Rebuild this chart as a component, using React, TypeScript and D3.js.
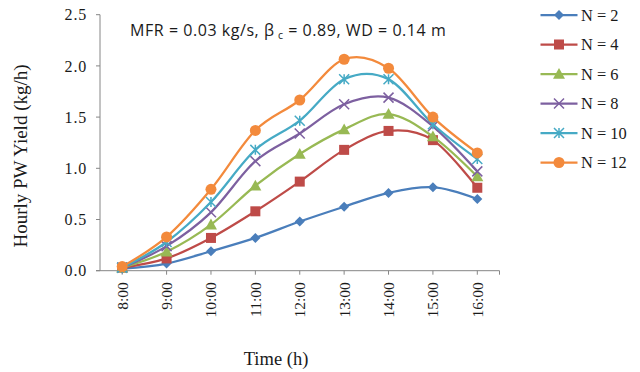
import React from "react";
import * as d3 from "d3";

const categories = ["8:00", "9:00", "10:00", "11:00", "12:00", "13:00", "14:00", "15:00", "16:00"];
const seriesNames = ["N = 2", "N = 4", "N = 6", "N = 8", "N = 10", "N = 12"];
const n2 = [0.02, 0.07, 0.19, 0.32, 0.48, 0.625, 0.76, 0.815, 0.70];
const n4 = [0.03, 0.12, 0.32, 0.58, 0.87, 1.18, 1.365, 1.275, 0.81];
const n6 = [0.03, 0.185, 0.45, 0.83, 1.14, 1.38, 1.53, 1.31, 0.92];
const n8 = [0.03, 0.24, 0.57, 1.07, 1.34, 1.625, 1.69, 1.41, 0.97];
const n10 = [0.03, 0.28, 0.67, 1.18, 1.465, 1.87, 1.87, 1.43, 1.09];
const n12 = [0.04, 0.33, 0.795, 1.37, 1.667, 2.065, 1.977, 1.50, 1.15];
const seriesValues = [n2, n4, n6, n8, n10, n12];
const yTicks = [0, 0.5, 1.0, 1.5, 2.0, 2.5];
const colors = ["#4A7EBB", "#BE4B48", "#98B954", "#7D60A0", "#46AAC5", "#F38A3C"];
const markers = ["diamond", "square", "triangle", "x", "star", "circle"];

function Marker({ type, x, y, color }: { type: string; x: number; y: number; color: string }) {
  if (type === "diamond") {
    const s = 5;
    return <path d={`M${x},${y - s}L${x + s},${y}L${x},${y + s}L${x - s},${y}Z`} fill={color} />;
  }
  if (type === "square") {
    const s = 5;
    return <rect x={x - s} y={y - s} width={2 * s} height={2 * s} fill={color} />;
  }
  if (type === "triangle") {
    const s = 6;
    return <path d={`M${x},${y - s}L${x + s},${y + s * 0.8}L${x - s},${y + s * 0.8}Z`} fill={color} />;
  }
  if (type === "x") {
    const s = 5;
    return <path d={`M${x - s},${y - s}L${x + s},${y + s}M${x - s},${y + s}L${x + s},${y - s}`} stroke={color} strokeWidth={1.5} />;
  }
  if (type === "star") {
    const s = 5;
    return (
      <path
        d={`M${x - s},${y - s}L${x + s},${y + s}M${x - s},${y + s}L${x + s},${y - s}M${x},${y - s}L${x},${y + s}`}
        stroke={color}
        strokeWidth={1.5}
      />
    );
  }
  return <circle cx={x} cy={y} r={5.5} fill={color} />;
}

export default function App() {
  const W = 640, H = 372;
  const left = 100, right = 499.5, top = 14.7, bottom = 270.7;
  const x = d3.scaleBand<string>().domain(categories).range([left, right]);
  const y = d3.scaleLinear().domain([0, 2.5]).range([bottom, top]);
  const cx = (c: string) => (x(c) as number) + x.bandwidth() / 2;
  const line = d3
    .line<number>()
    .x((_, i) => cx(categories[i]))
    .y((v) => y(v))
    .curve(d3.curveCardinal.tension(0));
  const axisColor = "#868686";
  const serif = "'Liberation Serif', 'Times New Roman', serif";
  const textColor = "#1a1a1a";
  return (
    <svg width={W} height={H} style={{ position: "absolute", left: 0, top: 0, background: "#fff" }}>
      {/* axes */}
      <line x1={left} x2={left} y1={top} y2={bottom} stroke={axisColor} strokeWidth={1} />
      <line x1={left - 4} x2={right} y1={bottom} y2={bottom} stroke={axisColor} strokeWidth={1} />
      {yTicks.map((t) => (
        <g key={t}>
          <line x1={left - 4} x2={left} y1={y(t)} y2={y(t)} stroke={axisColor} />
          <text x={87} y={y(t)} dy="0.35em" textAnchor="end" fontFamily={serif} fontSize={16} letterSpacing={0.8} fill={textColor}>
            {t.toFixed(1)}
          </text>
        </g>
      ))}
      {categories.map((c) => (
        <g key={c}>
          <line x1={cx(c)} x2={cx(c)} y1={bottom} y2={bottom + 4} stroke={axisColor} />
          <text
            transform={`translate(${cx(c)},${bottom + 11.5}) rotate(-90)`}
            textAnchor="end"
            dy="0.35em"
            fontFamily={serif}
            fontSize={15.5}
            fill={textColor}
          >
            {c}
          </text>
        </g>
      ))}
      <line x1={right} x2={right} y1={bottom} y2={bottom + 4} stroke={axisColor} />
      {/* series */}
      {seriesValues.map((vals, si) => (
        <g key={si}>
          <path d={line(vals) || ""} fill="none" stroke={colors[si]} strokeWidth={2.25} />
          {vals.map((v, i) => (
            <Marker key={i} type={markers[si]} x={cx(categories[i])} y={y(v)} color={colors[si]} />
          ))}
        </g>
      ))}
      {/* title */}
      <text x={130} y={36} fontFamily="'Open Sans', 'Liberation Sans', sans-serif" fontSize={16} letterSpacing={0.55} fill={textColor}>
        MFR = 0.03 kg/s, β
        <tspan fontSize={10.5} dy={3}> c</tspan>
        <tspan dy={-3}> = 0.89, WD = 0.14 m</tspan>
      </text>
      {/* axis labels */}
      <text
        transform={`translate(27,156) rotate(-90)`}
        textAnchor="middle"
        fontFamily={serif}
        fontSize={19}
        fill={textColor}
      >
        Hourly PW Yield (kg/h)
      </text>
      <text x={276} y={365} textAnchor="middle" fontFamily={serif} fontSize={18.5} fill={textColor}>
        Time (h)
      </text>
      {/* legend */}
      {seriesNames.map((nm, i) => {
        const ly = 15 + i * 29.5;
        return (
          <g key={nm}>
            <line x1={540.5} x2={577.5} y1={ly} y2={ly} stroke={colors[i]} strokeWidth={2.25} />
            <Marker type={markers[i]} x={559} y={ly} color={colors[i]} />
            <text x={581} y={ly} dy="0.35em" fontFamily={serif} fontSize={16.4} fill={textColor}>
              {nm}
            </text>
          </g>
        );
      })}
    </svg>
  );
}
